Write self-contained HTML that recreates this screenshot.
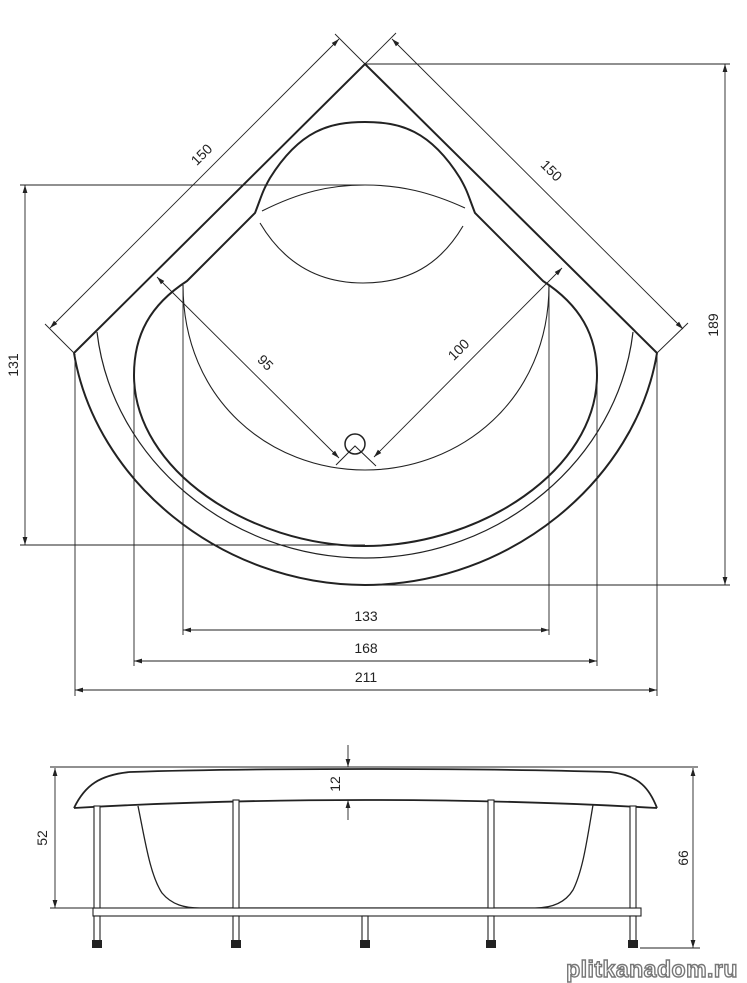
<!DOCTYPE html>
<html><head><meta charset="utf-8"><style>
html,body{margin:0;padding:0;background:#fff;}
svg{display:block;}
text{font-family:"Liberation Sans",sans-serif;font-size:14px;fill:#222;}
</style></head><body>
<svg width="747" height="983" viewBox="0 0 747 983" xmlns="http://www.w3.org/2000/svg">
<defs>
<marker id="a" viewBox="0 0 10 10" refX="10" refY="5" markerWidth="8" markerHeight="8" orient="auto-start-reverse" markerUnits="userSpaceOnUse"><path d="M0,2 L10,5 L0,8 z" fill="#222"/></marker>
</defs>
<g fill="none" stroke="#222">
<!-- outer shape -->
<path d="M74,353 L365,64 L657,353" stroke-width="2"/>
<path d="M74,353 C95,480 220,585 365,585 C510,585 636,480 657,353" stroke-width="2"/>
<!-- thin rim arc -->
<path d="M97,332 C112,460 230,558 365,558 C500,558 618,460 633,332" stroke-width="1.2"/>
<!-- inner thick bowl -->
<path d="M187,281 L255,213 C262,195 262,192 270,178 C300,130 330,122 365,122 C400,122 430,130 460,178 C468,192 468,195 475,213 L543,281 C580,305 597,335 597,375 C597,470 480,546 365,546 C250,546 134,470 134,375 C134,335 150,305 187,281 Z" stroke-width="2"/>
<!-- inner thin bowl -->
<path d="M183,285 C183,400 270,470 365,470 C460,470 549,400 549,285" stroke-width="1.1"/>
<!-- headrest -->
<path d="M262,211 C300,192 330,185 365,185 C400,185 430,192 465,208" stroke-width="1.1"/>
<path d="M260,223 C285,265 320,283 363,283 C408,283 440,265 463,226" stroke-width="1.1"/>
<!-- drain -->
<circle cx="355" cy="444" r="10" stroke-width="1.5"/>
<path d="M336,465 L355,446 L376,466" stroke-width="1"/>
<!-- thin dims -->
<g stroke-width="0.9">
<line x1="157" y1="277" x2="339" y2="458" marker-start="url(#a)" marker-end="url(#a)"/>
<line x1="562" y1="268" x2="374" y2="457" marker-start="url(#a)" marker-end="url(#a)"/>
<line x1="45" y1="324" x2="74" y2="353"/>
<line x1="335" y1="34" x2="365" y2="64"/>
<line x1="50" y1="328" x2="339" y2="39" marker-start="url(#a)" marker-end="url(#a)"/>
<line x1="396" y1="33" x2="365" y2="64"/>
<line x1="688" y1="323" x2="657" y2="353"/>
<line x1="392" y1="39" x2="683" y2="329" marker-start="url(#a)" marker-end="url(#a)"/>
<line x1="365" y1="64" x2="730" y2="64"/>
<line x1="365" y1="585" x2="730" y2="585"/>
<line x1="725" y1="64" x2="725" y2="585" marker-start="url(#a)" marker-end="url(#a)"/>
<line x1="20" y1="185" x2="365" y2="185"/>
<line x1="20" y1="545" x2="365" y2="545"/>
<line x1="25" y1="185" x2="25" y2="545" marker-start="url(#a)" marker-end="url(#a)"/>
<line x1="75" y1="354" x2="75" y2="696"/>
<line x1="657" y1="354" x2="657" y2="696"/>
<line x1="134" y1="375" x2="134" y2="666"/>
<line x1="597" y1="375" x2="597" y2="666"/>
<line x1="183" y1="285" x2="183" y2="635"/>
<line x1="549" y1="285" x2="549" y2="635"/>
<line x1="183" y1="630" x2="549" y2="630" marker-start="url(#a)" marker-end="url(#a)"/>
<line x1="134" y1="661" x2="597" y2="661" marker-start="url(#a)" marker-end="url(#a)"/>
<line x1="75" y1="690" x2="657" y2="690" marker-start="url(#a)" marker-end="url(#a)"/>
</g>
<!-- side view -->
<g stroke-width="0.9">
<line x1="50" y1="767" x2="698" y2="767"/>
<line x1="50" y1="908" x2="95" y2="908"/>
<line x1="55" y1="768" x2="55" y2="908" marker-start="url(#a)" marker-end="url(#a)"/>
<line x1="640" y1="948" x2="700" y2="948"/>
<line x1="693" y1="768" x2="693" y2="948" marker-start="url(#a)" marker-end="url(#a)"/>
<line x1="348" y1="745" x2="348" y2="767" marker-end="url(#a)"/>
<line x1="348" y1="820" x2="348" y2="800" marker-end="url(#a)"/>
</g>
<path d="M74,808 C85,785 100,775 130,772 C250,768 480,768 610,772 C640,775 650,790 657,808" stroke-width="1.8"/>
<path d="M74,808 C160,803 260,800 365,800 C470,800 570,803 657,808" stroke-width="1.8"/>
<path d="M138,806 C145,840 150,875 162,893 C172,905 185,908 200,908 L535,908 C552,908 565,903 573,890 C583,870 587,840 593,805" stroke-width="1.3"/>
<g stroke-width="1.1" fill="#fff">
<rect x="93" y="908" width="548" height="8"/>
<rect x="94" y="806" width="6" height="102"/>
<rect x="233" y="800" width="6" height="108"/>
<rect x="488" y="800" width="6" height="108"/>
<rect x="630" y="806" width="6" height="102"/>
<rect x="94" y="916" width="6" height="25"/>
<rect x="233" y="916" width="6" height="25"/>
<rect x="362" y="916" width="6" height="25"/>
<rect x="488" y="916" width="6" height="25"/>
<rect x="630" y="916" width="6" height="25"/>
</g>
<g fill="#222" stroke="none">
<rect x="92" y="940" width="10" height="8"/>
<rect x="231" y="940" width="10" height="8"/>
<rect x="360" y="940" width="10" height="8"/>
<rect x="486" y="940" width="10" height="8"/>
<rect x="628" y="940" width="10" height="8"/>
</g>
</g>
<!-- labels -->
<text x="205" y="158" transform="rotate(-45 205 158)" text-anchor="middle">150</text>
<text x="548" y="174" transform="rotate(45 548 174)" text-anchor="middle">150</text>
<text x="262" y="366" transform="rotate(45 262 366)" text-anchor="middle">95</text>
<text x="462" y="353" transform="rotate(-45 462 353)" text-anchor="middle">100</text>
<text x="718" y="325" transform="rotate(-90 718 325)" text-anchor="middle">189</text>
<text x="18" y="365" transform="rotate(-90 18 365)" text-anchor="middle">131</text>
<text x="366" y="621" text-anchor="middle">133</text>
<text x="366" y="653" text-anchor="middle">168</text>
<text x="366" y="682" text-anchor="middle">211</text>
<text x="47" y="838" transform="rotate(-90 47 838)" text-anchor="middle">52</text>
<text x="340" y="784" transform="rotate(-90 340 784)" text-anchor="middle">12</text>
<text x="688" y="858" transform="rotate(-90 688 858)" text-anchor="middle">66</text>
<text x="652" y="977" text-anchor="middle" style="font-size:23px;font-weight:bold;fill:#fff;stroke:#777;stroke-width:1.4px;letter-spacing:0.5px">plitkanadom.ru</text>
</svg>
</body></html>
